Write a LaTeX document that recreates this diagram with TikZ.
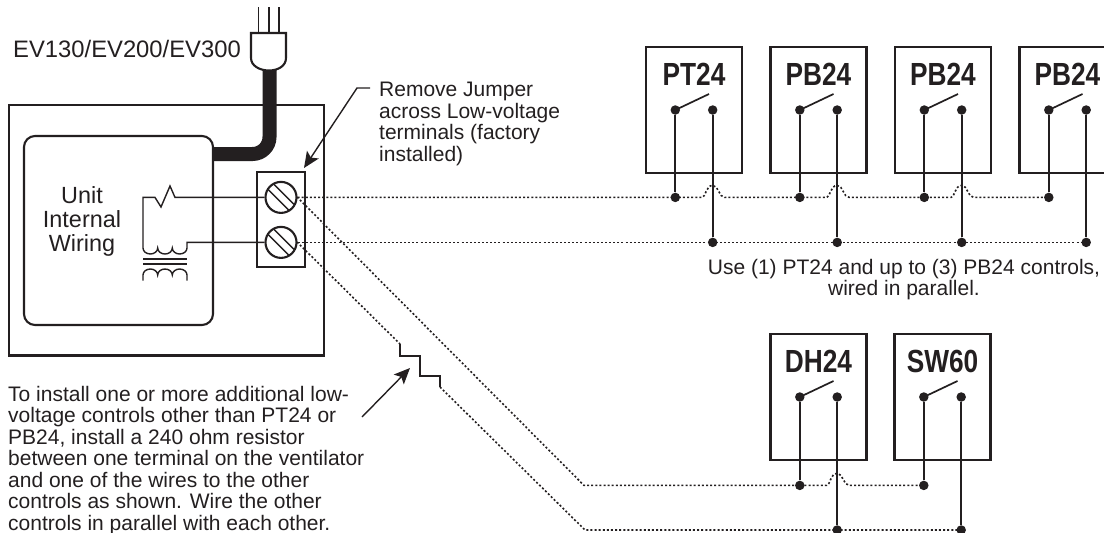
\documentclass[tikz,border=0pt]{standalone}
\usepackage{fontspec}
\setmainfont{Liberation Sans}
\newfontfamily\labelfont[FakeStretch=0.82]{Liberation Sans Bold}
\usetikzlibrary{arrows.meta}
\definecolor{ink}{HTML}{231F20}
\tikzset{
 x=1pt,y=-1pt,
 wire/.style={line width=1.4pt,draw=ink},
 heavy/.style={line width=2.1pt,draw=ink},
 stem/.style={line width=1.8pt,draw=ink},
 dots/.style={line width=1.6pt,draw=ink,dash pattern=on 2pt off 2.1pt},
 pin/.style={circle,fill=ink,inner sep=0pt,minimum size=9.5pt},
 tag/.style={font=\labelfont\fontsize{32}{32}\selectfont,text=ink,inner sep=0pt},
 note/.style={font=\fontsize{21}{21.5}\selectfont,text=ink,inner sep=0pt,align=left},
 ctrl/.style={heavy,fill=white,minimum width=96pt,minimum height=126pt,inner sep=0pt},
 screw/.style={circle,heavy,minimum size=31pt,inner sep=0pt},
 tip/.style={-{Stealth[length=16pt,width=14pt,inset=3.5pt]},line width=1.4pt,draw=ink}
}
\begin{document}
\begin{tikzpicture}
\useasboundingbox (0,0) rectangle (1104,533);
\clip (0,0) rectangle (1104,533);
\draw[heavy] (9,105) rectangle (324,355.5);
\draw[heavy,rounded corners=11pt] (24,136) rectangle (213,325);
\draw[line width=14pt,draw=ink,rounded corners=17pt] (212.5,154) -- (269.5,154) -- (269.5,68);
% plug
\draw[heavy,fill=white] (251,33) -- (286,33) -- (286,58) .. controls (286,66) and (278,70.5) .. (269,70.5) .. controls (260,70.5) and (251,66) .. (251,58) -- cycle;
\foreach \p in {258.5,269,279}{\draw[wire] (\p,7) -- (\p,33);}
\node[note,anchor=base west,font=\fontsize{23.8}{24}\selectfont] (model) at (13,57) {EV130/EV200/EV300};
% terminal
\draw[heavy,fill=white] (257,172) rectangle (305,267);
\node[screw] (s1) at (281,197.4) {};
\node[screw] (s2) at (281,242.4) {};
\foreach \s in {s1,s2}{
 \draw[wire] ([shift={(-13,-8)}]\s.center) -- ([shift={(8,13)}]\s.center);
 \draw[wire] ([shift={(-7,-13)}]\s.center) -- ([shift={(13,7)}]\s.center);
}
% internal circuit
\draw[wire] (s1.west) -- (175,197.4) -- (170,186) -- (161,207) -- (155,197.4) -- (143,197.4) -- (143,248)
 arc[start angle=180,end angle=0,x radius=7.33,y radius=6]
 arc[start angle=180,end angle=0,x radius=7.33,y radius=6]
 arc[start angle=180,end angle=0,x radius=7.33,y radius=6] -- (187,242.4) -- (s2.west);
\draw[wire] (143,259) -- (187,259) (143,264) -- (187,264);
\draw[wire] (143,280.5) -- (143,275)
 arc[start angle=180,end angle=360,x radius=7.33,y radius=6]
 arc[start angle=180,end angle=360,x radius=7.33,y radius=6]
 arc[start angle=180,end angle=360,x radius=7.33,y radius=6] -- (187,280.5);
\node[note,align=center,anchor=north,font=\fontsize{23.4}{24.3}\selectfont] (unit) at (82,186) {Unit\\Internal\\Wiring};
% notes
\coordinate (jend) at (370,88);
\coordinate (jmid) at (357,88);
\coordinate (jtip) at (304,168);
\draw[tip] (jend) -- (jmid) -- (jtip);
\node[note,anchor=north west] (jumper) at (379,82) {Remove Jumper\\across Low-voltage\\terminals (factory\\installed)};
\node[note,anchor=north west] (other) at (8,385.7) {To install one or more additional low-\\voltage controls other than PT24 or\\PB24, install a 240 ohm resistor\\between one terminal on the ventilator\\and one of the wires to the other\\controls as shown. Wire the other\\controls in parallel with each other.};
\node[note,align=center,anchor=north] (use) at (904,258.7) {Use (1) PT24 and up to (3) PB24 controls,\\wired in parallel.};
\coordinate (rtail) at (362,417);
\coordinate (rhead) at (410,368);
\draw[tip] (rtail) -- (rhead);
% control boxes
\foreach \n/\t/\x/\y in {a/PT24/694/110,b/PB24/818.5/110,c/PB24/943/110,d/PB24/1067.5/110,e/DH24/818.5/397,f/SW60/942.5/397}{
 \node[ctrl] (\n) at (\x,\y) {};
 \node[tag] at (\x,\y-36) {\t};
 \node[pin] (\n l) at (\x-18.7,\y) {};
 \node[pin] (\n r) at (\x+18.7,\y) {};
 \draw[wire,line width=1.7pt] (\n l.center) -- (\x+15,\y-16);
}
% bus lines
\foreach \n in {a,b,c,d}{
 \node[pin] (\n t) at (\n l|-0,197.4) {};
 \node[pin] (\n u) at (\n r|-0,242.4) {};
 \draw[stem] (\n l) -- (\n t);
 \draw[stem] (\n r) -- (\n u);
}
\foreach \n in {e,f}{
 \node[pin] (\n t) at (\n l|-0,485.4) {};
 \node[pin] (\n u) at (\n r|-0,530) {};
 \draw[stem] (\n l) -- (\n t);
 \draw[stem] (\n r) -- (\n u);
}
\newcommand{\hop}[2]{-- (#1-10.5,#2) .. controls (#1-7,#2) and (#1-7,#2-12) .. (#1,#2-12) .. controls (#1+6,#2-12) and (#1+6,#2) .. (#1+12,#2)}
\draw[dots] (s1.east) -- (at.center) \hop{712.7}{197.4} -- (bt.center) \hop{837.2}{197.4} -- (ct.center) \hop{961.7}{197.4} -- (dt.center);
\draw[dots] (s2.east) -- (au.center) -- (bu.center) -- (cu.center) -- (du.center);
% lower
\coordinate (d1) at (297,197);
\coordinate (d2) at (297,242);
\coordinate (r1) at (400,344);
\coordinate (r2) at (440,387);
\draw[dots] (d1) -- (584,485.4) -- (et.center) \hop{837.2}{485.4} -- (ft.center);
\draw[dots] (d2) -- (r1);
\draw[wire] (r1) -- (400,356) -- (420,356) -- (420,376) -- (440,376) -- (r2);
\draw[dots] (r2) -- (585,530) -- (eu.center) -- (fu.center);
\end{tikzpicture}
\end{document}
